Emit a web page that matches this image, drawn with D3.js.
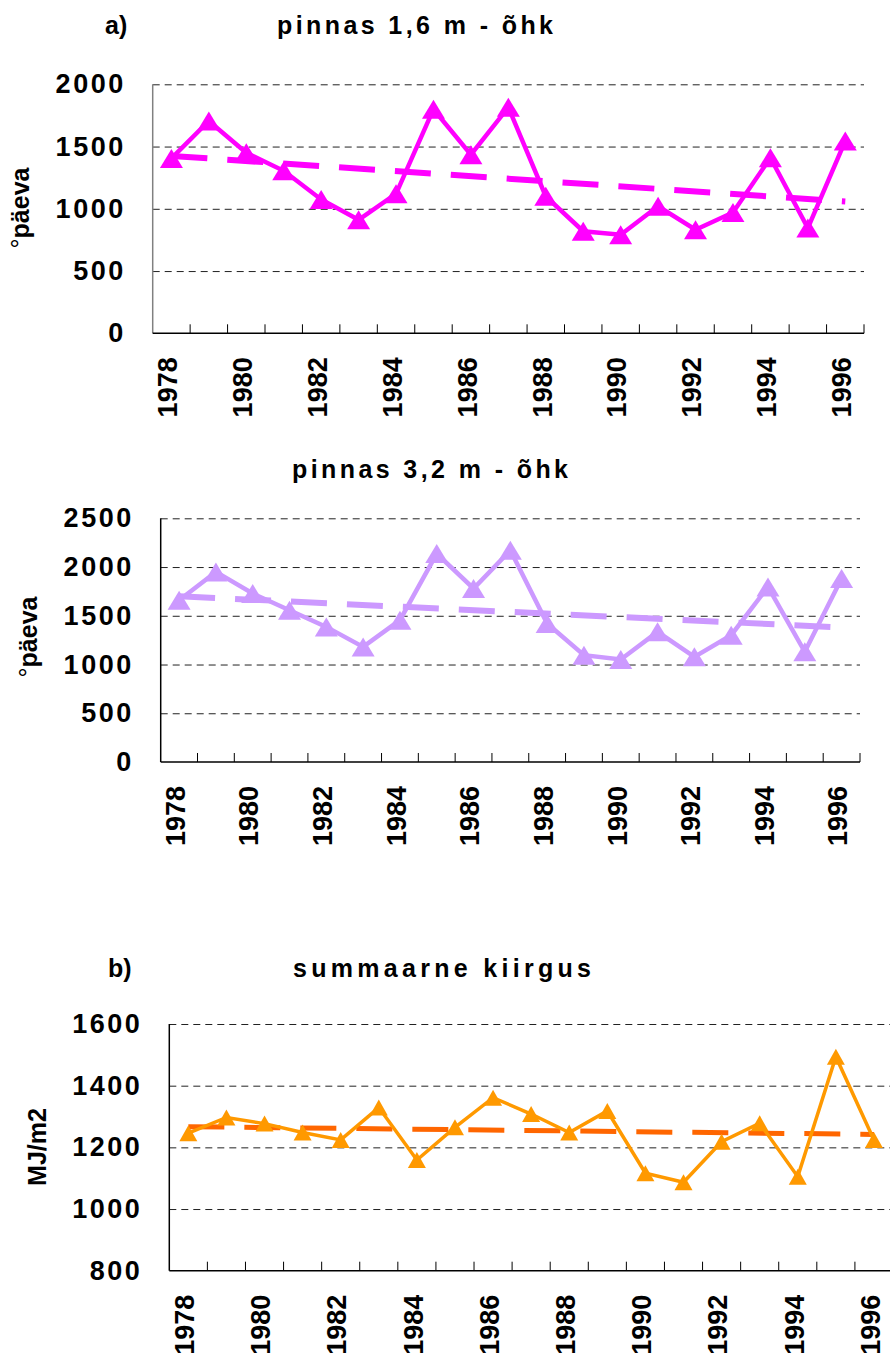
<!DOCTYPE html>
<html>
<head>
<meta charset="utf-8">
<script src="https://cdn.jsdelivr.net/npm/d3@7"></script>
<style>
    body { margin: 0; background: #fff; }
    text { font-family: 'Liberation Sans', Arial, sans-serif; font-weight: bold; fill: #000; }
</style>
</head>
<body>
<div id="chart"></div>
<script>
const years = [1978, 1979, 1980, 1981, 1982, 1983, 1984, 1985, 1986, 1987,
    1988, 1989, 1990, 1991, 1992, 1993, 1994, 1995, 1996]
const yearLabels = [1978, 1980, 1982, 1984, 1986, 1988, 1990, 1992, 1994, 1996]

// pinnas 1,6 m - õhk
const soil16 = [1405, 1705, 1450, 1305, 1075, 912, 1120, 1800, 1435, 1815,
    1100, 820, 792, 1020, 832, 970, 1410, 845, 1545]
const soil16Trend = [1425, 1058]
const soil16Ticks = [0, 500, 1000, 1500, 2000]

// pinnas 3,2 m - õhk
const soil32 = [1660, 1950, 1728, 1557, 1386, 1181, 1455, 2138, 1780, 2172,
    1421, 1096, 1052, 1335, 1079, 1301, 1796, 1130, 1882]
const soil32Trend = [1700, 1380]
const soil32Ticks = [0, 500, 1000, 1500, 2000, 2500]

// summaarne kiirgus
const radiation = [1246, 1297, 1277, 1248, 1224, 1329, 1159, 1265, 1361, 1308,
    1248, 1318, 1116, 1087, 1218, 1278, 1105, 1494, 1224]
const radiationTrend = [1267, 1242]
const radiationTicks = [800, 1000, 1200, 1400, 1600]

const svg = d3.select('#chart')
    .append('svg')
    .attr('width', 890)
    .attr('height', 1356)

class PanelDrawer {
    constructor({ left, right, top, bottom, domain, ticks, color, trendColor, lineWidth, marker, leftAxisColor }) {
        this.left = left
        this.right = right
        this.top = top
        this.bottom = bottom
        this.color = color
        this.trendColor = trendColor || color
        this.lineWidth = lineWidth
        this.marker = marker
        this.ticks = ticks
        this.leftAxisColor = leftAxisColor || '#000'
        this.x = d3.scaleBand().domain(years).range([left, right])
        this.y = d3.scaleLinear().domain(domain).range([bottom, top])
        this.cx = d => this.x(d) + this.x.bandwidth() / 2
    }

    drawAxes() {
        const grid = svg.append('g')
            .attr('transform', `translate(${this.left},0)`)
            .call(d3.axisLeft(this.y).tickValues(this.ticks.slice(1))
                .tickSize(-(this.right - this.left)).tickFormat(''))
        grid.select('.domain').remove()
        grid.selectAll('line')
            .attr('stroke', '#222')
            .attr('stroke-width', 1)
            .attr('stroke-dasharray', '7,5')

        const labels = svg.append('g')
            .attr('transform', `translate(${this.left},0)`)
            .call(d3.axisLeft(this.y).tickValues(this.ticks).tickSize(0)
                .tickPadding(27).tickFormat(d3.format('d')))
        labels.select('.domain').remove()
        labels.selectAll('text')
            .attr('font-size', 27)
            .attr('letter-spacing', 2.5)
            .attr('font-family', null)

        svg.append('line')
            .attr('x1', this.left).attr('x2', this.left)
            .attr('y1', this.top).attr('y2', this.bottom)
            .attr('stroke', this.leftAxisColor)
            .attr('stroke-width', 1.5)
        svg.append('line')
            .attr('x1', this.left).attr('x2', this.right)
            .attr('y1', this.bottom).attr('y2', this.bottom)
            .attr('stroke', '#000')
            .attr('stroke-width', 1.5)

        svg.append('g')
            .selectAll('line')
            .data(years.slice(1).concat(['end']))
            .join('line')
            .attr('x1', d => d === 'end' ? this.right : this.x(d))
            .attr('x2', d => d === 'end' ? this.right : this.x(d))
            .attr('y1', this.bottom)
            .attr('y2', this.bottom - 9)
            .attr('stroke', '#000')
            .attr('stroke-width', 1)

        svg.append('g')
            .selectAll('text')
            .data(yearLabels)
            .join('text')
            .attr('transform', d => `translate(${this.cx(d) - 4},${this.bottom + 24}) rotate(-90)`)
            .attr('text-anchor', 'end')
            .attr('dy', '0.36em')
            .attr('font-size', 27)
            .text(d => d)
    }

    drawData(values, trend) {
        const lineGenerator = d3.line()
            .x((d, i) => this.cx(years[i]))
            .y(d => this.y(d))

        const ends = [years[0], years[years.length - 1]]
        svg.append('path')
            .attr('d', d3.line().x((d, i) => this.cx(ends[i])).y(d => this.y(d))(trend))
            .attr('fill', 'none')
            .attr('stroke', this.trendColor)
            .attr('stroke-width', this.lineWidth + 1.5)
            .attr('stroke-dasharray', '36,20')

        svg.append('path')
            .attr('d', lineGenerator(values))
            .attr('fill', 'none')
            .attr('stroke', this.color)
            .attr('stroke-width', this.lineWidth)
            .attr('stroke-linejoin', 'miter')

        const w = this.marker[0]
        const h = this.marker[1]
        svg.append('g')
            .selectAll('path')
            .data(values)
            .join('path')
            .attr('transform', (d, i) => `translate(${this.cx(years[i])},${this.y(d)})`)
            .attr('d', `M0,${-h / 2}L${w / 2},${h / 2}L${-w / 2},${h / 2}Z`)
            .attr('fill', this.color)
    }
}

function title(x, y, label, text, width) {
    svg.append('text')
        .attr('x', x)
        .attr('y', y)
        .attr('font-size', 25)
        .attr('textLength', width)
        .attr('lengthAdjust', 'spacing')
        .text(text)
    if (label) {
        svg.append('text')
            .attr('x', label[0])
            .attr('y', y)
            .attr('font-size', 25)
            .text(label[1])
    }
}

function yTitle(x, y, degree, text) {
    const t = svg.append('text')
        .attr('transform', `translate(${x},${y}) rotate(-90)`)
        .attr('text-anchor', 'middle')
        .attr('font-size', 25)
    if (degree) {
        t.append('tspan').attr('font-weight', 'normal').text('°')
    }
    t.append('tspan').text(text)
}

// a) pinnas 1,6 m
title(277, 34, [105, 'a)'], 'pinnas 1,6 m - õhk', 276)
yTitle(29, 208, true, 'päeva')
const p1 = new PanelDrawer({
    left: 152.7, right: 864, top: 84.3, bottom: 333.3,
    domain: [0, 2000], ticks: soil16Ticks,
    color: '#ff00ff', lineWidth: 4.5, marker: [23, 19], leftAxisColor: '#808080',
})
p1.drawAxes()
p1.drawData(soil16, soil16Trend)

// pinnas 3,2 m
title(292, 478, null, 'pinnas 3,2 m - õhk', 276)
yTitle(37, 637, true, 'päeva')
const p2 = new PanelDrawer({
    left: 160.7, right: 860, top: 518.3, bottom: 762,
    domain: [0, 2500], ticks: soil32Ticks,
    color: '#cc99ff', lineWidth: 4.5, marker: [23, 19],
})
p2.drawAxes()
p2.drawData(soil32, soil32Trend)

// b) summaarne kiirgus
title(293, 977, [108, 'b)'], 'summaarne kiirgus', 298)
yTitle(46, 1147, false, 'MJ/m2')
const p3 = new PanelDrawer({
    left: 169.3, right: 893, top: 1024, bottom: 1270.7,
    domain: [800, 1600], ticks: radiationTicks,
    color: '#ff9900', trendColor: '#ff6600', lineWidth: 3.5, marker: [18, 16],
})
p3.drawAxes()
p3.drawData(radiation, radiationTrend)
</script>
</body>
</html>
